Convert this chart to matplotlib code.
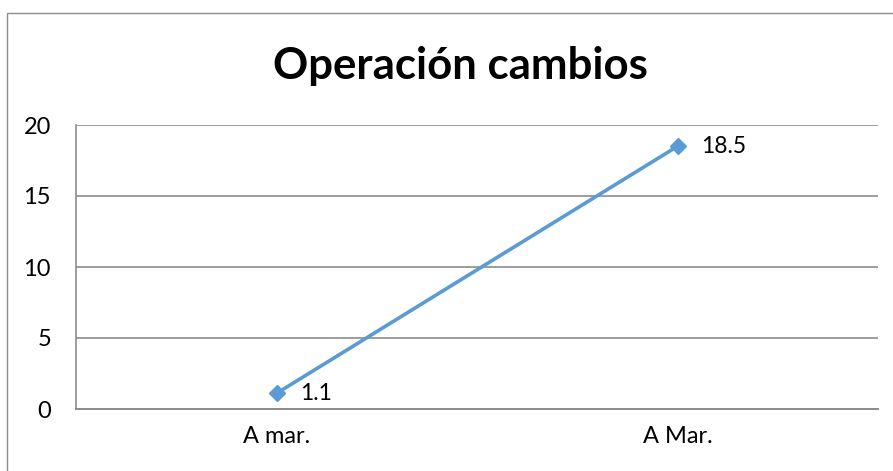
import matplotlib.pyplot as plt
from matplotlib.patches import Rectangle

plt.rcParams['font.family'] = ['Lato', 'DejaVu Sans']

categories = ["A mar.", "A Mar."]
values = [1.1, 18.5]
labels = ["1.1", "18.5"]
yticks = [0, 5, 10, 15, 20]

fig = plt.figure(figsize=(8.93, 4.71), dpi=100)
ax = fig.add_axes([76/893, 1 - 409/471, (878 - 76)/893, (409 - 125)/471])

x = list(range(len(categories)))
ax.plot(x, values, color='#5B9BD5', linewidth=2.6, marker='D', markersize=8, zorder=3)
for xi, v, lab in zip(x, values, labels):
    ax.annotate(lab, (xi, v), xytext=(17, 0), textcoords='offset points',
                va='center', ha='left', fontsize=16.5, color='black')

ax.set_xlim(-0.5, 1.5)
ax.set_ylim(0, 20)
ax.set_yticks(yticks)
ax.set_xticks(x)
ax.set_xticklabels(categories)
ax.tick_params(axis='both', length=0, labelsize=17, colors='black')
ax.tick_params(axis='y', pad=18)
ax.tick_params(axis='x', pad=12)
ax.grid(axis='y', color='#8c8c8c', linewidth=1.2)
ax.set_axisbelow(True)
for s in ['top', 'right']:
    ax.spines[s].set_visible(False)
ax.spines['left'].set_color('#8c8c8c')
ax.spines['bottom'].set_color('#8c8c8c')
ax.spines['left'].set_linewidth(1.2)
ax.spines['bottom'].set_linewidth(1.4)

fig.text(460/893, 1 - 66/471, "Operación cambios", ha='center', va='center',
         fontsize=31.5, fontweight='bold')

# outer chart border (right and bottom edges fall outside the picture)
fig.patches.append(Rectangle((7/893, -0.1), 1.2, 0.1 + (1 - 13/471),
                             transform=fig.transFigure, fill=False,
                             edgecolor='#8c8c8c', linewidth=1.0))

fig.savefig('out.png', dpi=100)
